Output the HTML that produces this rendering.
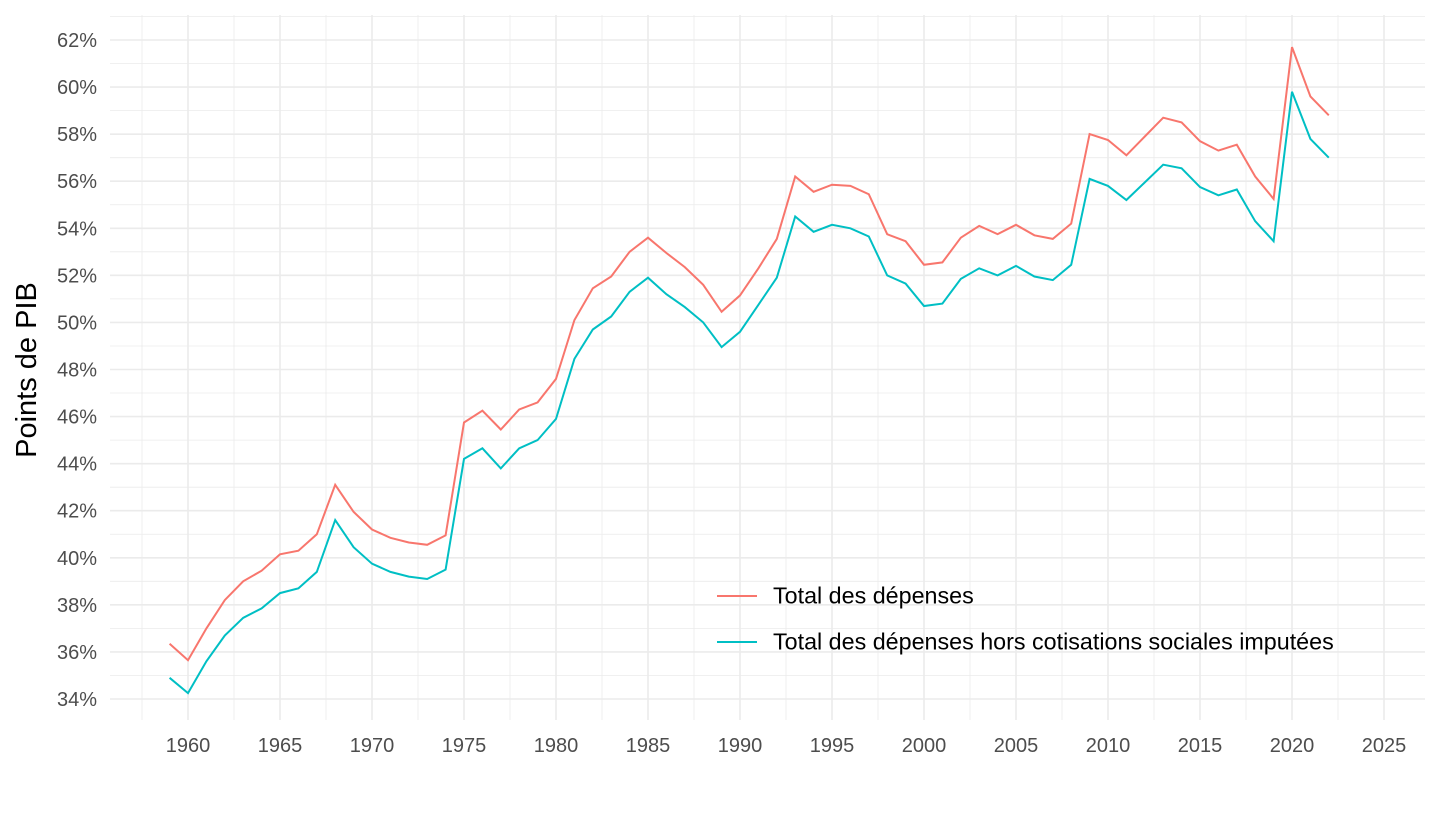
<!DOCTYPE html>
<html><head><meta charset="utf-8"><style>
body{margin:0;background:#fff;font-family:"Liberation Sans",sans-serif}
svg text{font-family:"Liberation Sans",sans-serif}
</style></head><body>
<svg id="chart" width="1440" height="810"></svg>
<script>
const years=[];for(let y=1959;y<=2022;y++)years.push(y);
const totalDepenses=[36.35,35.65,37.0,38.2,39.0,39.45,40.15,40.3,41.0,43.1,41.95,41.2,40.85,40.65,40.55,40.95,45.75,46.25,45.45,46.3,46.6,47.6,50.1,51.45,51.95,53.0,53.6,52.95,52.35,51.6,50.45,51.15,52.3,53.55,56.2,55.55,55.85,55.8,55.45,53.75,53.45,52.45,52.55,53.6,54.1,53.75,54.15,53.7,53.55,54.2,58.0,57.75,57.1,57.9,58.7,58.5,57.7,57.3,57.55,56.2,55.25,61.7,59.6,58.8];
const horsCotisations=[34.9,34.25,35.6,36.7,37.45,37.85,38.5,38.7,39.4,41.6,40.45,39.75,39.4,39.2,39.1,39.5,44.2,44.65,43.8,44.65,45.0,45.9,48.45,49.7,50.25,51.3,51.9,51.2,50.65,50.0,48.95,49.6,50.75,51.9,54.5,53.85,54.15,54.0,53.65,52.0,51.65,50.7,50.8,51.85,52.3,52.0,52.4,51.95,51.8,52.45,56.1,55.8,55.2,55.95,56.7,56.55,55.75,55.4,55.65,54.3,53.45,59.8,57.8,57.0];
const yTicks=[34,36,38,40,42,44,46,48,50,52,54,56,58,60,62];
const xTicks=[1960,1965,1970,1975,1980,1985,1990,1995,2000,2005,2010,2015,2020,2025];
const NS="http://www.w3.org/2000/svg";
const svg=document.getElementById('chart');
const L=110,R=1425,T=15,B=720;
const xs=v=>188+(v-1960)*(1384-188)/65;
const ys=v=>699-(v-34)*(699-40)/28;
function mk(tag,attrs,parent){const e=document.createElementNS(NS,tag);for(const k in attrs)e.setAttribute(k,attrs[k]);(parent||svg).appendChild(e);return e;}
const grid=mk('g',{});


for(let v=33;v<=63;v+=1){const y=ys(v);if(y<T||y>B)continue;
 mk('line',{x1:L,x2:R,y1:y,y2:y,stroke:'#ebebeb','stroke-width':v%2===0?1.6:0.8},grid);}
for(let v=1957.5;v<=2027.5;v+=2.5){const x=xs(v);if(x<L||x>R)continue;
 mk('line',{x1:x,x2:x,y1:T,y2:B,stroke:'#ebebeb','stroke-width':v%5===0?1.6:0.8},grid);}
yTicks.forEach(v=>{const t=mk('text',{x:97,y:ys(v)+7,'text-anchor':'end','font-size':20,fill:'#4d4d4d'});t.textContent=v+'%';
 
 });
xTicks.forEach(v=>{const t=mk('text',{x:xs(v),y:752,'text-anchor':'middle','font-size':20,fill:'#4d4d4d'});t.textContent=v;
 
 });
const yt=mk('text',{x:0,y:0,transform:'translate(36,370) rotate(-90)','text-anchor':'middle','font-size':29,fill:'#000'});
yt.textContent='Points de PIB';


function line(data,color,name){const p=mk('path',{d:data.map((v,i)=>(i?'L':'M')+xs(years[i]).toFixed(1)+','+ys(v).toFixed(1)).join(''),fill:'none',stroke:color,'stroke-width':2});
 
 }
line(totalDepenses,'#F8766D','series-total-depenses');
line(horsCotisations,'#00BFC4','series-hors-cotisations');
const lg=mk('g',{});


[['Total des dépenses','#F8766D',596],['Total des dépenses hors cotisations sociales imputées','#00BFC4',642]].forEach(([s,c,y])=>{
 mk('line',{x1:717,x2:757,y1:y,y2:y,stroke:c,'stroke-width':2},lg);
 const t=mk('text',{x:773,y:y+7.5,'font-size':23.3,fill:'#000'},lg);t.textContent=s;
 
 });
</script>
</body></html>
